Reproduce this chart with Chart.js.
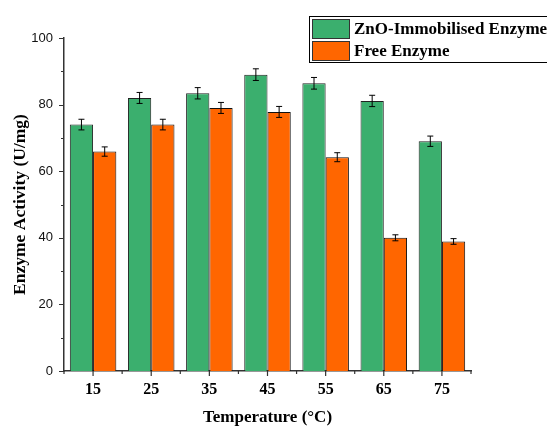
<!DOCTYPE html>
<html>
<head>
<meta charset="utf-8">
<script src="https://cdn.jsdelivr.net/npm/chart.js@4/dist/chart.umd.min.js"></script>
<style>
  html, body { margin: 0; padding: 0; background: #fff; }
  canvas { display: block; }
</style>
</head>
<body>
<canvas id="myBarChart" width="547" height="426"></canvas>
<script>
var temperaturas = ['15', '25', '35', '45', '55', '65', '75'];
var inmovilizada = [74, 82, 83.4, 89, 86.4, 81.1, 69];
var inmovilizadaErr = [1.6, 1.65, 1.7, 1.75, 1.75, 1.7, 1.55];
var libre = [65.9, 74, 79, 77.8, 64.2, 40, 38.9];
var libreErr = [1.4, 1.6, 1.65, 1.65, 1.35, 0.9, 0.85];
var yTicks = [0, 20, 40, 60, 80, 100];

var serif = "'Liberation Serif', 'Times New Roman', serif";
var sans = "'Liberation Sans', Arial, sans-serif";

// barras de error, marcas de los ejes y leyenda
var extras = {
    id: 'extras',
    afterDatasetsDraw: function(chart) {
        var ctx = chart.ctx;
        var y = chart.scales.y;
        ctx.save();
        ctx.strokeStyle = '#000';
        ctx.lineWidth = 1;
        chart.data.datasets.forEach(function(ds, di) {
            var meta = chart.getDatasetMeta(di);
            meta.data.forEach(function(bar, i) {
                var v = ds.data[i], e = ds.errores[i];
                var top = y.getPixelForValue(v + e);
                var bot = y.getPixelForValue(v - e);
                ctx.beginPath();
                ctx.moveTo(bar.x, top); ctx.lineTo(bar.x, bot);
                ctx.moveTo(bar.x - 3, top); ctx.lineTo(bar.x + 3, top);
                ctx.moveTo(bar.x - 3, bot); ctx.lineTo(bar.x + 3, bot);
                ctx.stroke();
            });
        });
        ctx.restore();
    },
    afterDraw: function(chart) {
        var ctx = chart.ctx;
        var area = chart.chartArea;
        var x = chart.scales.x, y = chart.scales.y;
        ctx.save();
        ctx.strokeStyle = '#333';
        ctx.lineWidth = 1.2;
        ctx.beginPath();
        for (var v = 0; v <= 100; v += 10) {
            var py = Math.round(y.getPixelForValue(v)) + 0.5;
            ctx.moveTo(area.left, py);
            ctx.lineTo(area.left - (v % 20 === 0 ? 5 : 3), py);
        }
        var half = (x.getPixelForValue(1) - x.getPixelForValue(0)) / 2;
        for (var i = 0; i < temperaturas.length; i++) {
            var px = x.getPixelForValue(i);
            ctx.moveTo(px, area.bottom); ctx.lineTo(px, area.bottom + 5);
            ctx.moveTo(px - half, area.bottom); ctx.lineTo(px - half, area.bottom + 3);
            if (i === temperaturas.length - 1) {
                ctx.moveTo(px + half, area.bottom); ctx.lineTo(px + half, area.bottom + 3);
            }
        }
        ctx.stroke();

        // leyenda
        ctx.strokeStyle = '#000';
        ctx.lineWidth = 1;
        ctx.strokeRect(309.5, 16.5, 260, 46);
        ctx.font = 'bold 17px ' + serif;
        ctx.textBaseline = 'middle';
        ctx.textAlign = 'left';
        chart.data.datasets.forEach(function(ds, di) {
            var top = 19 + di * 22;
            ctx.fillStyle = ds.backgroundColor;
            ctx.fillRect(312, top, 38, 20);
            ctx.strokeStyle = '#333';
            ctx.strokeRect(312.5, top + 0.5, 37, 19);
            ctx.fillStyle = '#000';
            ctx.fillText(ds.label, 354, top + 11);
        });
        ctx.restore();
    }
};

var ctxBar = document.getElementById('myBarChart').getContext('2d');
var myBarChart = new Chart(ctxBar, {
    type: 'bar',
    data: {
        labels: temperaturas,
        datasets: [{
            label: 'ZnO-Immobilised Enzyme',
            data: inmovilizada,
            errores: inmovilizadaErr,
            backgroundColor: '#3BAF6E',
            borderColor: '#222',
            borderWidth: 1
        }, {
            label: 'Free Enzyme',
            data: libre,
            errores: libreErr,
            backgroundColor: '#FF6600',
            borderColor: '#111',
            borderWidth: 1
        }]
    },
    options: {
        responsive: false,
        animation: false,
        layout: { padding: { left: 0, right: 76, top: 38, bottom: 0 } },
        plugins: {
            legend: { display: false },
            tooltip: { enabled: false }
        },
        datasets: {
            bar: { categoryPercentage: 0.8, barPercentage: 1.0 }
        },
        scales: {
            x: {
                grid: { display: false, drawTicks: false },
                border: { display: true, color: '#333', width: 1.5 },
                ticks: {
                    color: '#000',
                    padding: 9,
                    font: { family: serif, size: 16, weight: 'bold' }
                },
                title: {
                    display: true,
                    text: 'Temperature (°C)',
                    color: '#000',
                    padding: 0,
                    font: { family: serif, size: 17, weight: 'bold', lineHeight: 1 }
                },
                afterFit: function(scale) { scale.height = 55; }
            },
            y: {
                min: 0,
                max: 100,
                grid: { display: false, drawTicks: false },
                border: { display: true, color: '#333', width: 1.5 },
                ticks: {
                    stepSize: 10,
                    color: '#111',
                    padding: 11,
                    font: { family: sans, size: 13 },
                    callback: function(v) { return yTicks.indexOf(v) >= 0 ? v : ''; }
                },
                title: {
                    display: true,
                    text: 'Enzyme Activity (U/mg)',
                    color: '#000',
                    padding: { top: 12, bottom: 0 },
                    font: { family: serif, size: 17.5, weight: 'bold', lineHeight: 1 }
                },
                afterFit: function(scale) { scale.width = 64; }
            }
        }
    },
    plugins: [extras]
});
</script>
</body>
</html>
